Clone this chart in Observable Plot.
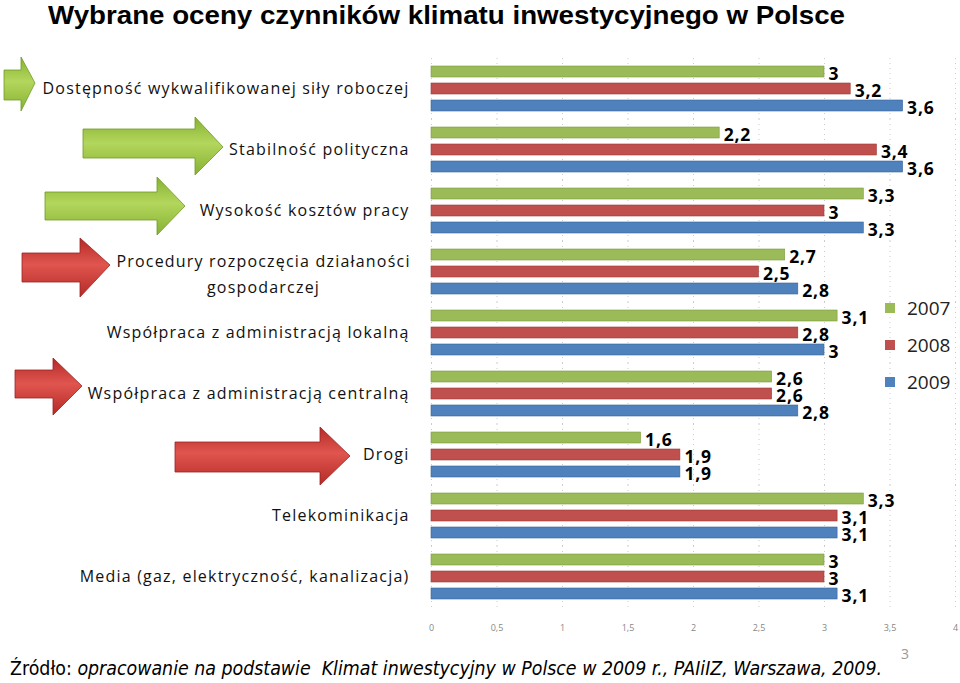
<!DOCTYPE html>
<html>
<head>
<meta charset="utf-8">
<script src="https://cdn.jsdelivr.net/npm/d3@7"></script>
<script src="https://cdn.jsdelivr.net/npm/@observablehq/plot@0.6"></script>
<style>
  html, body { margin: 0; padding: 0; background: #fff; }
  #wrap { position: relative; width: 960px; height: 683px; overflow: hidden; background: #fff; }
  #title { position: absolute; left: 48px; top: 0; transform-origin: 0 0; white-space: nowrap;
    font-family: "Liberation Sans", Arial, sans-serif; font-weight: bold; font-size: 25px; line-height: 30px; color: #000; }
  #deco { position: absolute; left: 0; top: 0; }
  #chart { position: absolute; left: 0; top: 40px; }
  #legend { position: absolute; left: 885px; top: 289px; font-family: "Open Sans", sans-serif; font-size: 19px; color: #222; }
  #legend .item { display: flex; align-items: center; height: 37px; }
  #legend .sw { width: 10px; height: 10px; margin-right: 12px; }
  #source { position: absolute; left: 10px; top: 657px; transform-origin: 0 0; font-family: "Liberation Sans Narrow", "DejaVu Sans Condensed", sans-serif; font-size: 19px; line-height: 22px; color: #000; white-space: nowrap; }
  #page { position: absolute; left: 901px; top: 644px; font-family: "Open Sans", sans-serif; font-size: 14px; color: #999; }
  g[aria-description="category-labels"] text { letter-spacing: 1.2px; }
  g[aria-description="value-labels"] text { letter-spacing: 0.8px; }
</style>
</head>
<body>
<div id="wrap">
  <div id="title">Wybrane oceny czynników klimatu inwestycyjnego w Polsce</div>
  <svg id="deco" width="430" height="640"></svg>
  <div id="chart"></div>
  <div id="legend"></div>
  <div id="source">Źródło: <i>opracowanie na podstawie&nbsp; Klimat inwestycyjny w Polsce w 2009 r., PAIiIZ, Warszawa, 2009.</i></div>
  <div id="page">3</div>
</div>
<script>
// ---- data ----
const categories = [
  "Dostępność wykwalifikowanej siły roboczej",
  "Stabilność polityczna",
  "Wysokość kosztów pracy",
  "Procedury rozpoczęcia działaności\ngospodarczej",
  "Współpraca z administracją lokalną",
  "Współpraca z administracją centralną",
  "Drogi",
  "Telekominikacja",
  "Media (gaz, elektryczność, kanalizacja)"
];
const years = ["2007", "2008", "2009"];
const values2007 = [3.0, 2.2, 3.3, 2.7, 3.1, 2.6, 1.6, 3.3, 3.0];
const values2008 = [3.2, 3.4, 3.0, 2.5, 2.8, 2.6, 1.9, 3.1, 3.0];
const values2009 = [3.6, 3.6, 3.3, 2.8, 3.0, 2.8, 1.9, 3.1, 3.1];
const xTicks = [0, 0.5, 1, 1.5, 2, 2.5, 3, 3.5, 4];
const colors = ["#9BBB59", "#C0504D", "#4F81BD"];
const strokes = ["#7E9C40", "#9A3A37", "#3A659A"];

const series = [values2007, values2008, values2009];
const table = [];
categories.forEach((c, i) => {
  years.forEach((y, j) => table.push({category: c, year: y, value: series[j][i]}));
});
const fmt = v => String(v).replace(".", ",");

const centered = categories.filter(c => c.includes("\n"));
const rightAligned = categories.filter(c => !c.includes("\n"));

const chart = Plot.plot({
  width: 960,
  height: 600,
  marginLeft: 431,
  marginRight: 5,
  marginTop: 17,
  marginBottom: 33,
  style: {background: "transparent", overflow: "visible"},
  x: {domain: [0, 4], ticks: xTicks, tickFormat: fmt, tickSize: 0, tickPadding: 17, label: null},
  y: {domain: years, paddingInner: 0.37, paddingOuter: 0.43, axis: null},
  fy: {domain: categories, padding: 0, axis: null},
  color: {domain: years, range: colors},
  marks: [
    Plot.axisX({ticks: xTicks, tickFormat: fmt, tickSize: 0, tickPadding: 17, fontSize: 9, fill: "#888", label: null, fontFamily: "Open Sans"}),
    Plot.tickX(xTicks, {x: d => d, frameAnchor: "bottom", stroke: "#ccc", strokeWidth: 1, strokeDasharray: "1,4", facet: "exclude"}),
    Plot.barX(table, {
      x: "value", y: "year", fy: "category", fill: "year",
      stroke: d => strokes[years.indexOf(d.year)], strokeWidth: 0.6
    }),
    Plot.text(table, {
      ariaDescription: "value-labels",
      x: "value", y: "year", fy: "category", text: d => fmt(d.value),
      textAnchor: "start", dx: 4, dy: 2, fontWeight: "bold", fontSize: 17.5,
      fontFamily: "Open Sans", fill: "#000"
    }),
    Plot.text(rightAligned, {
      ariaDescription: "category-labels",
      fy: d => d, text: d => d, frameAnchor: "left", textAnchor: "end", dx: -22,
      fontSize: 16, fontFamily: "Open Sans", fill: "#111"
    }),
    Plot.text(centered, {
      ariaDescription: "category-labels",
      fy: d => d, text: d => d, frameAnchor: "left", textAnchor: "middle", dx: -168,
      lineHeight: 1.6, fontSize: 16, fontFamily: "Open Sans", fill: "#111"
    })
  ]
});
document.getElementById("chart").appendChild(chart);

// legend
const legend = document.getElementById("legend");
years.forEach((y, j) => {
  const it = document.createElement("div");
  it.className = "item";
  it.innerHTML = `<span class="sw" style="background:${colors[j]}"></span><span>${y}</span>`;
  legend.appendChild(it);
});

// fit title and source widths to the reference layout
function fitWidth(id, target) {
  const el = document.getElementById(id);
  const w = el.getBoundingClientRect().width;
  if (w > 0) el.style.transform = `scaleX(${target / w})`;
}
fitWidth("title", 797);
fitWidth("source", 872);

// decorative arrows (purely ornamental, not data)
const deco = d3.select("#deco");
const defs = deco.append("defs");
function grad(id, edge, mid) {
  const g = defs.append("linearGradient").attr("id", id).attr("x1", 0).attr("y1", 0).attr("x2", 0).attr("y2", 1);
  g.append("stop").attr("offset", "0%").attr("stop-color", edge);
  g.append("stop").attr("offset", "45%").attr("stop-color", mid);
  g.append("stop").attr("offset", "100%").attr("stop-color", edge);
}
grad("gG", "#86B233", "#B3D65C");
grad("gR", "#B42A27", "#E0554E");
const arrows = [
  {g: "gG", s: "#6E9A2A", x0: 4, x1: 21, xt: 35, bt: 70, bb: 100, ht: 57, hb: 111, yt: 83},
  {g: "gG", s: "#6E9A2A", x0: 83, x1: 195, xt: 223, bt: 129, bb: 158, ht: 117, hb: 175, yt: 147},
  {g: "gG", s: "#6E9A2A", x0: 45, x1: 157, xt: 185, bt: 192, bb: 220, ht: 177, hb: 235, yt: 206},
  {g: "gR", s: "#9A2422", x0: 22, x1: 80, xt: 110, bt: 253, bb: 282, ht: 238, hb: 297, yt: 265},
  {g: "gR", s: "#9A2422", x0: 15, x1: 53, xt: 82, bt: 370, bb: 398, ht: 358, hb: 415, yt: 386},
  {g: "gR", s: "#9A2422", x0: 175, x1: 320, xt: 350, bt: 442, bb: 472, ht: 427, hb: 485, yt: 456}
];
arrows.forEach(a => {
  const p = `M${a.x0},${a.bt} L${a.x1},${a.bt} L${a.x1},${a.ht} L${a.xt},${a.yt} L${a.x1},${a.hb} L${a.x1},${a.bb} L${a.x0},${a.bb} Z`;
  deco.append("path").attr("d", p).attr("fill", `url(#${a.g})`).attr("stroke", a.s).attr("stroke-width", 0.8);
});
</script>
</body>
</html>
